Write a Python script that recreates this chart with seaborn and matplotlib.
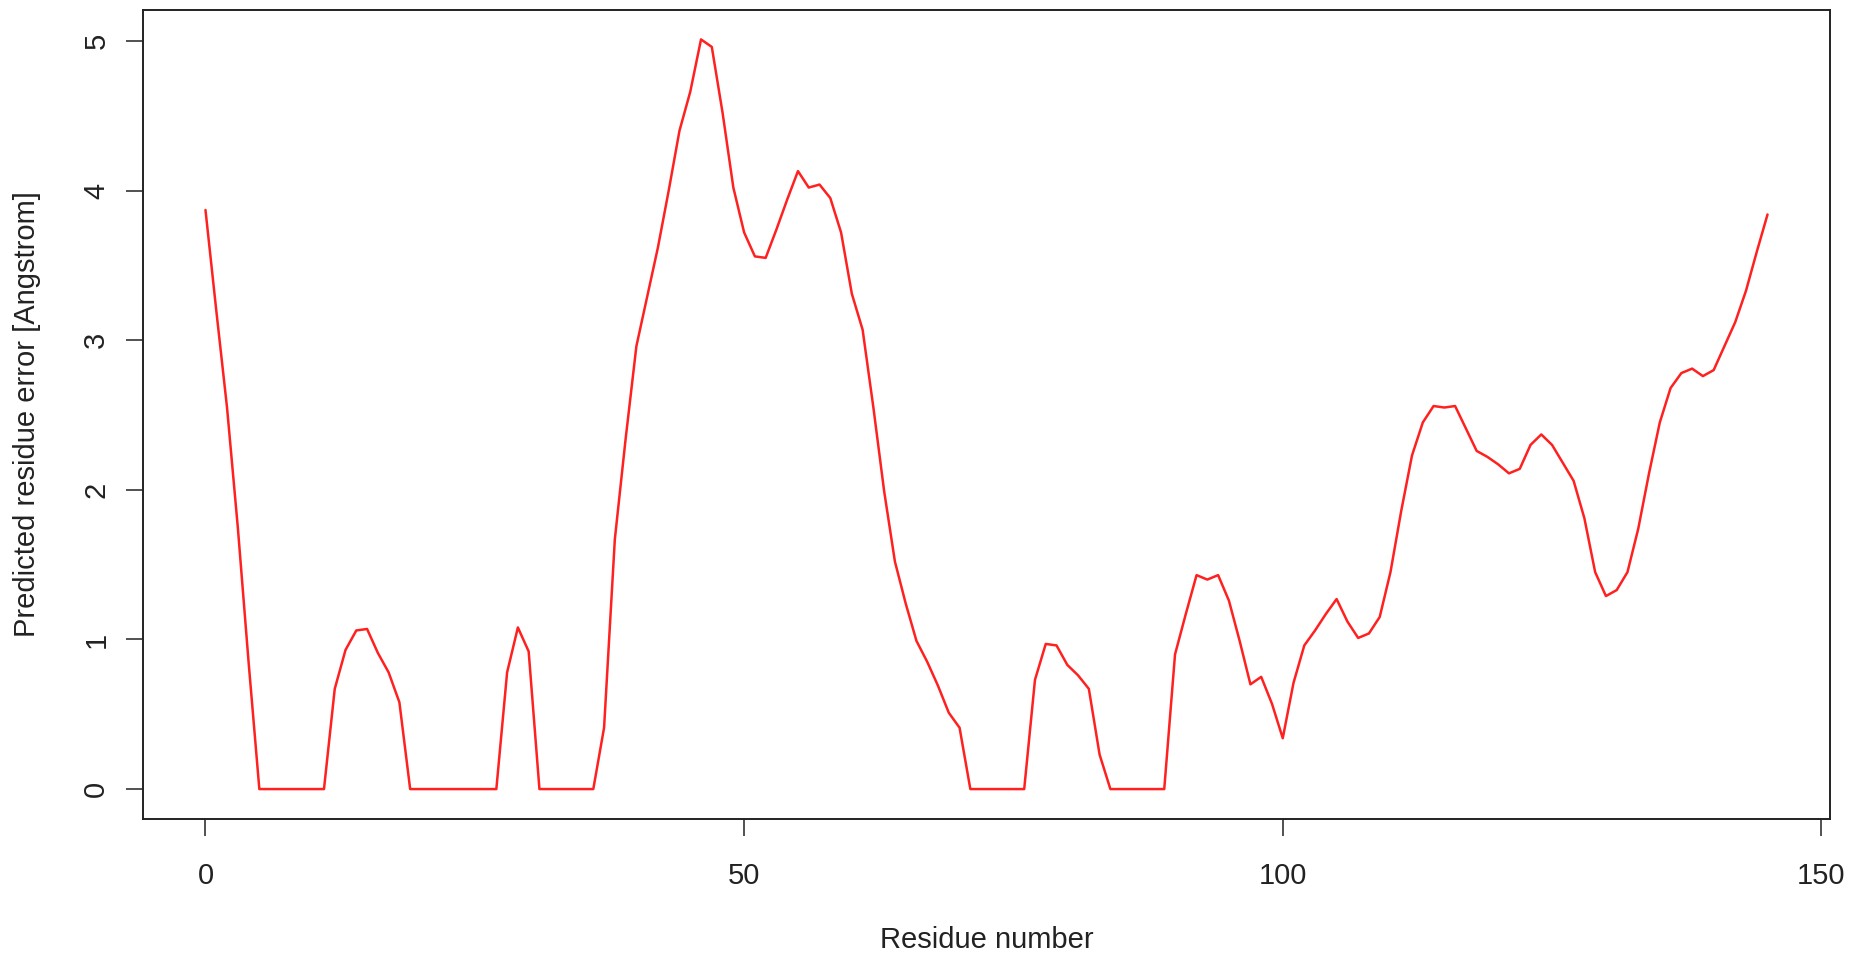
import numpy as np
import pandas as pd
import matplotlib
matplotlib.use("Agg")
import matplotlib.pyplot as plt
import seaborn as sns

# predicted error per residue
residue_error = [
    3.87, 3.20, 2.55, 1.75, 0.85, 0.00, 0.00, 0.00, 0.00, 0.00,
    0.00, 0.00, 0.67, 0.93, 1.06, 1.07, 0.91, 0.78, 0.58, 0.00,
    0.00, 0.00, 0.00, 0.00, 0.00, 0.00, 0.00, 0.00, 0.78, 1.08,
    0.92, 0.00, 0.00, 0.00, 0.00, 0.00, 0.00, 0.41, 1.67, 2.34,
    2.96, 3.29, 3.62, 4.00, 4.40, 4.66, 5.01, 4.96, 4.52, 4.02,
    3.72, 3.56, 3.55, 3.74, 3.94, 4.13, 4.02, 4.04, 3.95, 3.72,
    3.31, 3.07, 2.55, 1.99, 1.52, 1.24, 0.99, 0.85, 0.69, 0.51,
    0.41, 0.00, 0.00, 0.00, 0.00, 0.00, 0.00, 0.73, 0.97, 0.96,
    0.83, 0.76, 0.67, 0.23, 0.00, 0.00, 0.00, 0.00, 0.00, 0.00,
    0.90, 1.17, 1.43, 1.40, 1.43, 1.26, 0.99, 0.70, 0.75, 0.57,
    0.34, 0.71, 0.96, 1.06, 1.17, 1.27, 1.12, 1.01, 1.04, 1.15,
    1.45, 1.86, 2.23, 2.45, 2.56, 2.55, 2.56, 2.41, 2.26, 2.22,
    2.17, 2.11, 2.14, 2.30, 2.37, 2.30, 2.18, 2.06, 1.81, 1.45,
    1.29, 1.33, 1.45, 1.74, 2.11, 2.45, 2.68, 2.78, 2.81, 2.76,
    2.80, 2.96, 3.12, 3.33, 3.59, 3.84,
]
residue_number = list(range(len(residue_error)))
x_ticks = [0, 50, 100, 150]
y_ticks = [0, 1, 2, 3, 4, 5]

df = pd.DataFrame({"residue": residue_number, "error": residue_error})

sns.set_style("white")
plt.rcParams["font.family"] = ["Liberation Sans", "DejaVu Sans"]

fig = plt.figure(figsize=(18.66, 9.56), dpi=100)
ax = fig.add_axes([143 / 1866, 1 - 819 / 956, (1830 - 143) / 1866, (819 - 9.5) / 956])

sns.lineplot(data=df, x="residue", y="error", color="#ff2020", linewidth=1.8, ax=ax)

ax.set_xlim(-5.8, 150.8)
ax.set_ylim(-0.2, 5.21)
ax.set_xticks(x_ticks)
ax.set_yticks(y_ticks)
ax.set_xticklabels([str(t) for t in x_ticks])
ax.set_yticklabels([str(t) for t in y_ticks])

for side in ax.spines.values():
    side.set_visible(True)
    side.set_color("#222222")
    side.set_linewidth(1.4)

# R-style outward ticks
ax.tick_params(axis="both", bottom=True, left=True, direction="out",
               length=12.5, width=1.1, color="#222222",
               labelsize=21, labelcolor="#222222")
ax.tick_params(axis="x", pad=18.5)
ax.tick_params(axis="y", pad=11)
plt.setp(ax.get_yticklabels(), rotation=90, va="center")

ax.set_xlabel("Residue number", fontsize=21, color="#222222")
ax.set_ylabel("Predicted residue error [Angstrom]", fontsize=21, color="#222222")
ax.xaxis.set_label_coords(0.5, (819 - 940) / 809)
ax.xaxis.label.set_va("center")
ax.yaxis.set_label_coords((27 - 143) / 1687, 0.5)
ax.yaxis.label.set_va("center")

fig.savefig("out.png", dpi=100, facecolor="white")
